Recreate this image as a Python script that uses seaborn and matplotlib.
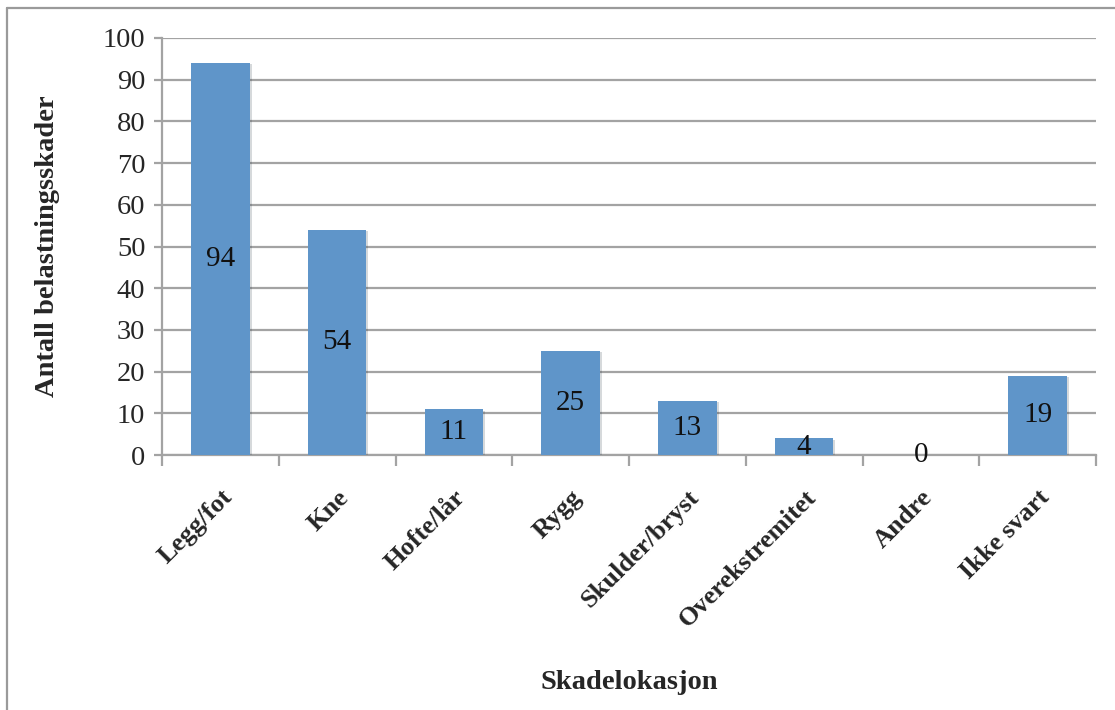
import matplotlib
matplotlib.use("Agg")
import matplotlib.pyplot as plt
import matplotlib.patheffects as pe
from matplotlib.lines import Line2D
import seaborn as sns
import pandas as pd

categories = ["Legg/fot", "Kne", "Hofte/lår", "Rygg", "Skulder/bryst",
              "Overekstremitet", "Andre", "Ikke svart"]
counts = [94, 54, 11, 25, 13, 4, 0, 19]
y_ticks = [0, 10, 20, 30, 40, 50, 60, 70, 80, 90, 100]

df = pd.DataFrame({"Skadelokasjon": categories, "Antall": counts})

sns.set_theme(style="white")
plt.rcParams["font.family"] = ["Liberation Serif", "DejaVu Serif"]

grid_col = "#A3A3A3"
bar_col = "#5F95C9"

fig = plt.figure(figsize=(11.15, 7.10), dpi=100)
ax = fig.add_axes([0.1453, 0.359, 0.8377, 0.5875])

sns.barplot(data=df, x="Skadelokasjon", y="Antall", color=bar_col,
            width=0.5, saturation=1, ax=ax, zorder=3)

for bar in ax.patches:
    bar.set_edgecolor("none")
    bar.set_path_effects([pe.SimplePatchShadow(offset=(1.5, -1.0), alpha=0.18),
                          pe.Normal()])

ax.set_ylim(0, 100)
ax.set_xlim(-0.5, len(categories) - 0.5)
ax.set_yticks(y_ticks)
ax.yaxis.grid(True, color=grid_col, linewidth=1.6, zorder=0)
ax.set_axisbelow(True)

for side in ("top", "right"):
    ax.spines[side].set_visible(False)
for side in ("left", "bottom"):
    ax.spines[side].set_color(grid_col)
    ax.spines[side].set_linewidth(1.6)

ax.tick_params(axis="y", which="major", left=True, length=6, width=1.6,
               color=grid_col, labelsize=20.5, pad=6)
ax.set_xticks([i - 0.5 for i in range(len(categories) + 1)], minor=True)
ax.tick_params(axis="x", which="minor", bottom=True, length=8, width=1.6,
               color=grid_col)
ax.tick_params(axis="x", which="major", bottom=False, pad=16)
ax.set_xticks(range(len(categories)))
ax.set_xticklabels(categories, rotation=45, ha="right", rotation_mode="anchor",
                   fontsize=19, fontweight="bold")

for i, v in enumerate(counts):
    ax.text(i, v / 2, str(v), ha="center", va="center", fontsize=21,
            color="#111111", zorder=5)

ax.set_ylabel("Antall belastningsskader", fontsize=20.5, fontweight="bold")
ax.yaxis.set_label_coords(-0.109, 0.5)
ax.set_xlabel("Skadelokasjon", fontsize=20.5, fontweight="bold")
ax.xaxis.set_label_coords(0.5, -0.516)

# outer frame of the chart area
fig.add_artist(Line2D([7 / 1115, 7 / 1115], [0, 1 - 8 / 710],
                      transform=fig.transFigure, color="#9A9A9A", linewidth=1.6))
fig.add_artist(Line2D([7 / 1115, 1], [1 - 8 / 710, 1 - 8 / 710],
                      transform=fig.transFigure, color="#9A9A9A", linewidth=1.6))

fig.savefig("out.png", dpi=100, facecolor="white")
